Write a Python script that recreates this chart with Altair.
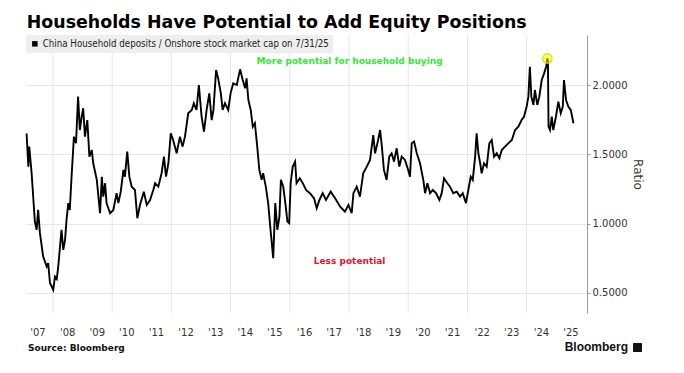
import altair as alt
import pandas as pd

# ---- data (decimal year, ratio) ----
years = [
    2007.11, 2007.17, 2007.20, 2007.28, 2007.39, 2007.45, 2007.50, 2007.56, 2007.67, 2007.79,
    2007.84, 2007.90, 2008.01, 2008.07, 2008.13, 2008.18, 2008.29, 2008.35, 2008.41, 2008.46,
    2008.52, 2008.57, 2008.63, 2008.71, 2008.78, 2008.85, 2008.91, 2008.97, 2009.02, 2009.08,
    2009.16, 2009.23, 2009.31, 2009.36, 2009.48, 2009.59, 2009.65, 2009.70, 2009.76, 2009.81,
    2009.93, 2010.04, 2010.15, 2010.21, 2010.29, 2010.38, 2010.43, 2010.51, 2010.58, 2010.66,
    2010.77, 2010.85, 2010.94, 2011.07, 2011.17, 2011.28, 2011.39, 2011.45, 2011.56, 2011.67,
    2011.75, 2011.82, 2011.90, 2011.98, 2012.06, 2012.18, 2012.29, 2012.38, 2012.46, 2012.57,
    2012.69, 2012.76, 2012.85, 2012.93, 2013.02, 2013.10, 2013.19, 2013.28, 2013.36, 2013.42,
    2013.51, 2013.58, 2013.67, 2013.73, 2013.81, 2013.92, 2014.00, 2014.09, 2014.21, 2014.32,
    2014.41, 2014.49, 2014.54, 2014.60, 2014.68, 2014.75, 2014.82, 2014.90, 2014.97, 2015.05,
    2015.10, 2015.19, 2015.27, 2015.35, 2015.44, 2015.51, 2015.58, 2015.65, 2015.70, 2015.78,
    2015.85, 2015.92, 2015.98, 2016.03, 2016.10, 2016.18, 2016.23, 2016.34, 2016.44, 2016.55,
    2016.68, 2016.82, 2016.91, 2017.00, 2017.11, 2017.22, 2017.38, 2017.53, 2017.70, 2017.86,
    2017.98, 2018.09, 2018.15, 2018.26, 2018.37, 2018.48, 2018.60, 2018.71, 2018.82, 2018.88,
    2018.96, 2019.05, 2019.10, 2019.18, 2019.27, 2019.36, 2019.44, 2019.52, 2019.61, 2019.70,
    2019.78, 2019.89, 2020.00, 2020.06, 2020.12, 2020.20, 2020.29, 2020.40, 2020.51, 2020.57,
    2020.65, 2020.74, 2020.83, 2020.94, 2021.05, 2021.13, 2021.21, 2021.32, 2021.41, 2021.52,
    2021.64, 2021.75, 2021.84, 2021.95, 2022.03, 2022.11, 2022.18, 2022.26, 2022.31, 2022.37,
    2022.43, 2022.48, 2022.56, 2022.65, 2022.74, 2022.82, 2022.90, 2022.99, 2023.08, 2023.16,
    2023.27, 2023.38, 2023.50, 2023.61, 2023.72, 2023.83, 2023.91, 2024.00, 2024.06, 2024.11,
    2024.16, 2024.23, 2024.28, 2024.36, 2024.43, 2024.51, 2024.59, 2024.66, 2024.70, 2024.72,
    2024.74, 2024.79, 2024.85, 2024.90, 2024.99, 2025.07, 2025.15, 2025.22, 2025.26, 2025.33,
    2025.41, 2025.49, 2025.58,
]
ratios = [
    1.650, 1.410, 1.555, 1.365, 1.014, 0.954, 1.098, 0.932, 0.761, 0.689,
    0.715, 0.571, 0.521, 0.617, 0.600, 0.689, 0.954, 0.810, 0.882, 1.026,
    1.147, 1.098, 1.338, 1.627, 1.579, 1.916, 1.675, 1.771, 1.832, 1.627,
    1.747, 1.483, 1.531, 1.435, 1.315, 1.074, 1.338, 1.194, 1.291, 1.147,
    1.074, 1.098, 1.219, 1.147, 1.230, 1.387, 1.338, 1.519, 1.338, 1.266,
    1.242, 1.038, 1.134, 1.230, 1.134, 1.170, 1.242, 1.291, 1.266, 1.363,
    1.483, 1.338, 1.435, 1.651, 1.603, 1.507, 1.627, 1.555, 1.627, 1.796,
    1.820, 1.868, 1.820, 2.000, 1.771, 1.663, 1.820, 1.940, 1.747, 1.820,
    2.108, 2.048, 1.940, 1.820, 1.868, 1.820, 1.940, 2.012, 2.000, 2.113,
    2.036, 1.976, 2.048, 1.892, 1.820, 1.699, 1.724, 1.555, 1.387, 1.315,
    1.363, 1.266, 1.147, 0.954, 0.750, 1.147, 0.954, 1.050, 1.315, 1.266,
    1.147, 1.014, 1.002, 1.291, 1.411, 1.447, 1.291, 1.327, 1.291, 1.242,
    1.219, 1.182, 1.110, 1.170, 1.219, 1.170, 1.230, 1.182, 1.122, 1.086,
    1.134, 1.074, 1.219, 1.266, 1.194, 1.363, 1.411, 1.459, 1.639, 1.507,
    1.579, 1.675, 1.579, 1.387, 1.315, 1.483, 1.507, 1.447, 1.543, 1.411,
    1.483, 1.459, 1.387, 1.338, 1.579, 1.591, 1.507, 1.435, 1.315, 1.219,
    1.291, 1.219, 1.242, 1.219, 1.170, 1.219, 1.327, 1.291, 1.266, 1.219,
    1.230, 1.194, 1.219, 1.147, 1.242, 1.338, 1.315, 1.483, 1.651, 1.507,
    1.435, 1.363, 1.435, 1.411, 1.579, 1.603, 1.483, 1.507, 1.471, 1.531,
    1.555, 1.579, 1.603, 1.675, 1.699, 1.747, 1.771, 1.843, 1.916, 2.132,
    1.916, 1.856, 1.964, 1.856, 1.916, 2.036, 2.084, 2.132, 2.192, 2.170,
    1.700, 1.675, 1.771, 1.675, 1.771, 1.880, 1.796, 1.843, 2.036, 1.892,
    1.843, 1.820, 1.724,
]
series_name = "China Household deposits / Onshore stock market cap on 7/31/25"

label_years = list(range(2007, 2026))          # x tick labels '07 ... '25
grid_years = list(range(2008, 2025, 2))        # vertical grid lines
y_ticks = [0.5, 1.0, 1.5, 2.0]

peak_year = [2024.70]
peak_value = [2.192]

note_text = ["More potential for household buying", "Less potential"]
note_year = [2018.02, 2018.02]
note_value = [2.173, 0.730]
note_color = ["#33e833", "#e8112d"]


def to_date(y):
    yr = int(y)
    return pd.Timestamp(year=yr, month=1, day=1) + pd.Timedelta(days=(y - yr) * 365.25)


df = pd.DataFrame({
    "date": [to_date(y) for y in years],
    "ratio": ratios,
    "series": series_name,
})
grid_df = pd.DataFrame({"date": [pd.Timestamp(year=y, month=1, day=1) for y in grid_years]})
label_df = pd.DataFrame({
    "date": [pd.Timestamp(year=y, month=7, day=1) for y in label_years],
    "label": ["'" + str(y)[2:] for y in label_years],
})
peak_df = pd.DataFrame({"date": [to_date(y) for y in peak_year], "ratio": peak_value})
note_df = pd.DataFrame({
    "date": [to_date(y) for y in note_year],
    "ratio": note_value,
    "text": note_text,
    "color": note_color,
})

FONT = "DejaVu Sans"
PLOT_H = 278

xscale = alt.Scale(domain=[alt.DateTime(year=2007, month=2, date=3),
                           alt.DateTime(year=2026, month=1, date=15)])
yscale = alt.Scale(domain=[0.354, 2.361], nice=False, zero=False)

y_axis = alt.Axis(
    orient="right", values=y_ticks, format=".4f",
    grid=True, gridColor="#e6e6e6",
    domain=True, domainColor="#999999", ticks=True, tickColor="#999999", tickSize=3,
    labelFont=FONT, labelFontSize=10, labelColor="#333333", labelPadding=2,
    title="Ratio", titleFont=FONT, titleFontSize=12, titleFontWeight="normal",
    titleColor="#333333", titlePadding=4,
)

grid = alt.Chart(grid_df).mark_rule(color="#e6e6e6", strokeWidth=1).encode(
    x=alt.X("date:T", scale=xscale, axis=None),
)

xlabels = alt.Chart(label_df).mark_text(
    font=FONT, fontSize=10, color="#333333", align="center", baseline="top",
).encode(
    x=alt.X("date:T", scale=xscale, axis=None),
    y=alt.value(PLOT_H + 15),
    text="label:N",
)

line = alt.Chart(df).mark_line(strokeWidth=1.9, strokeJoin="miter").encode(
    x=alt.X("date:T", scale=xscale, axis=None),
    y=alt.Y("ratio:Q", scale=yscale, axis=y_axis),
    color=alt.Color(
        "series:N",
        scale=alt.Scale(range=["#000000"]),
        title=None,
        legend=alt.Legend(
            orient="none", legendX=0, legendY=0,
            fillColor="#eeeeee", padding=4,
            symbolType="square", symbolSize=30,
            symbolFillColor="#000000", symbolStrokeColor="#000000", symbolStrokeWidth=0,
            labelFont=FONT + " Condensed, Liberation Sans", labelFontSize=9.7,
            labelColor="#222222", labelLimit=500, labelOffset=3,
        ),
    ),
)

peak = alt.Chart(peak_df).mark_point(
    shape="circle", size=90, filled=True, fill="#f2f200", fillOpacity=0.55,
    stroke="#e0e000", strokeWidth=1.2,
).encode(x=alt.X("date:T", scale=xscale), y=alt.Y("ratio:Q", scale=yscale))

notes = alt.Chart(note_df).mark_text(
    font=FONT, fontSize=9, fontWeight="bold", align="center", baseline="middle",
).encode(
    x=alt.X("date:T", scale=xscale),
    y=alt.Y("ratio:Q", scale=yscale),
    text="text:N",
    color=alt.Color("color:N", scale=None),
)

footer_df = pd.DataFrame({"t": ["Source: Bloomberg"]})
source = alt.Chart(footer_df).mark_text(
    font=FONT, fontSize=9, fontWeight="bold", align="left", baseline="middle", color="#111111",
).encode(x=alt.value(2), y=alt.value(313), text="t:N")

brand_df = pd.DataFrame({"t": ["Bloomberg"]})
brand = alt.Chart(brand_df).mark_text(
    font="Liberation Sans", fontSize=12, fontWeight="bold", align="right",
    baseline="middle", color="#111111",
).encode(x=alt.value(602), y=alt.value(312), text="t:N")

logo = alt.Chart(brand_df).mark_rect(color="#111111", cornerRadius=1).encode(
    x=alt.value(607), x2=alt.value(616), y=alt.value(308), y2=alt.value(317),
)

chart = alt.layer(grid, xlabels, line, peak, notes, source, brand, logo).properties(
    width=561,
    height=PLOT_H,
    title=alt.TitleParams(
        text="Households Have Potential to Add Equity Positions",
        anchor="start", font=FONT, fontSize=17.4, fontWeight="bold", color="#000000",
        offset=8, baseline="alphabetic", dy=19, dx=4,
    ),
    autosize=alt.AutoSizeParams(type="none"),
    padding={"left": 18, "top": 27, "right": 89, "bottom": 52},
).configure_view(strokeWidth=0)

chart.save("out.html", embed_options={"renderer": "svg", "actions": False})
